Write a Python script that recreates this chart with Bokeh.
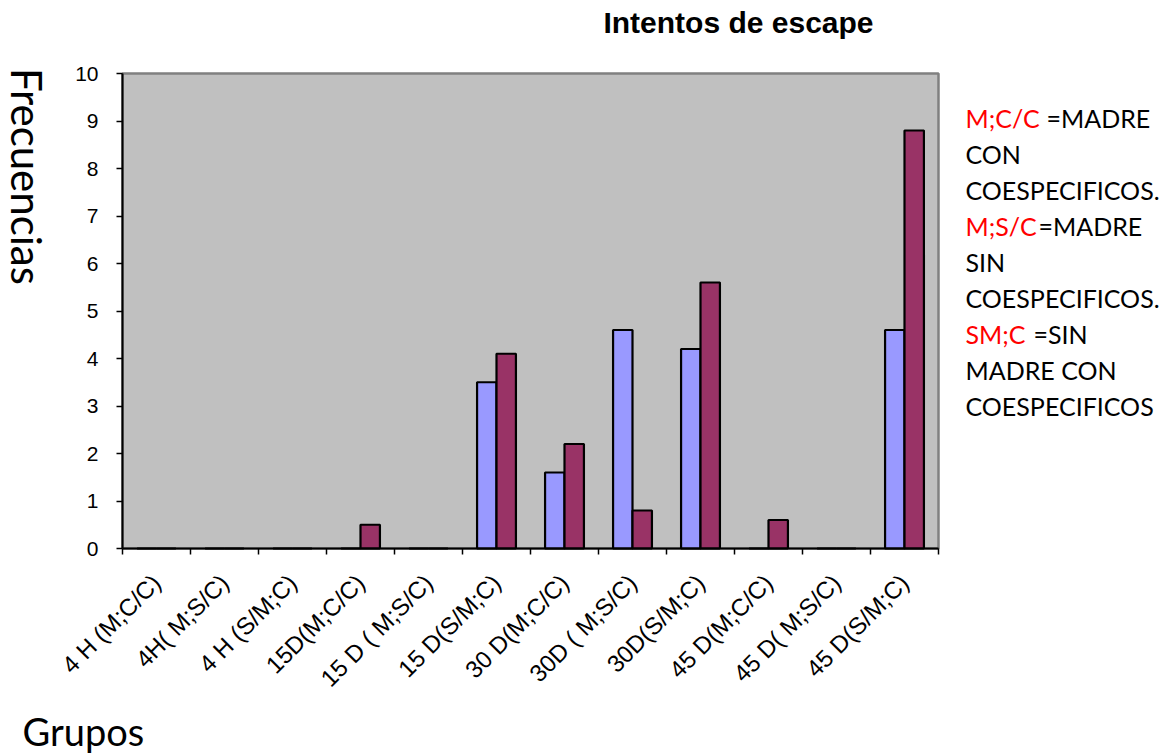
import math
from bokeh.plotting import figure
from bokeh.models import Range1d, FixedTicker, LinearAxis, Label, ColumnDataSource
from bokeh.transform import dodge
from bokeh.embed import file_html
from bokeh.resources import INLINE

# ---- data ----
groups = ["4 H (M;C/C)", "4H( M;S/C)", "4 H (S/M;C)", "15D(M;C/C)", "15 D ( M;S/C)",
          "15 D(S/M;C)", "30 D(M;C/C)", "30D ( M;S/C)", "30D(S/M;C)", "45 D(M;C/C)",
          "45 D( M;S/C)", "45 D(S/M;C)"]
serie_1 = [0, 0, 0, 0, 0, 3.5, 1.6, 4.6, 4.2, 0, 0, 4.6]
serie_2 = [0, 0, 0, 0.5, 0, 4.1, 2.2, 0.8, 5.6, 0.6, 0, 8.8]
y_ticks = list(range(0, 11))
title_text = "Intentos de escape"
y_title = "Frecuencias"
x_title = "Grupos"
legend_lines = [
    ("M;C/C", "=MADRE"), ("", "CON"), ("", "COESPECIFICOS."),
    ("M;S/C", "=MADRE"), ("", "SIN"), ("", "COESPECIFICOS."),
    ("SM;C", "=SIN"), ("", "MADRE CON"), ("", "COESPECIFICOS"),
]

# ---- layout (pixels) ----
W, H = 1163, 753
FRAME_L, FRAME_R, FRAME_T, FRAME_B = 122, 938, 73, 548
n = len(groups)
ymax = y_ticks[-1]
ppx = (FRAME_R - FRAME_L) / n
ppy = (FRAME_B - FRAME_T) / ymax

pos = [i + 0.5 for i in range(n)]
src = ColumnDataSource(dict(x=pos, s1=serie_1, s2=serie_2))

p = figure(width=W, height=H, output_backend="svg", toolbar_location=None,
           x_range=Range1d(-FRAME_L / ppx, n + (W - FRAME_R) / ppx),
           y_range=Range1d(-(H - FRAME_B) / ppy, ymax + FRAME_T / ppy),
           min_border=0, x_axis_type=None, y_axis_type=None)
p.background_fill_color = "white"
p.border_fill_color = "white"
p.outline_line_color = None
p.xgrid.visible = False
p.ygrid.visible = False

# plot area
p.quad(left=0, right=n, bottom=0, top=ymax, fill_color="#C0C0C0",
       line_color="#808080", line_width=2.5)

bw = 2.0 / 7.0
p.vbar(x=dodge("x", -bw / 2), top="s1", width=bw, source=src,
       fill_color="#9999FF", line_color="black", line_width=2.2)
p.vbar(x=dodge("x", bw / 2), top="s2", width=bw, source=src,
       fill_color="#993366", line_color="black", line_width=2.2)

# x axis
xa = LinearAxis(ticker=FixedTicker(ticks=pos, minor_ticks=list(range(n + 1))),
                fixed_location=0, bounds=(0, n))
xa.major_label_overrides = {v: g for v, g in zip(pos, groups)}
xa.major_label_orientation = math.pi / 4
xa.major_tick_line_color = None
xa.minor_tick_line_color = "black"
xa.minor_tick_line_width = 1.5
xa.minor_tick_out = 6
xa.minor_tick_in = 0
xa.axis_line_color = "black"
xa.axis_line_width = 2
xa.major_label_text_font = "Liberation Sans"
xa.major_label_text_font_size = "24px"
xa.major_label_text_color = "black"
xa.major_label_standoff = 24
p.add_layout(xa, "below")

# y axis
ya = LinearAxis(ticker=FixedTicker(ticks=y_ticks), fixed_location=0, bounds=(0, ymax))
ya.major_tick_line_color = "black"
ya.major_tick_line_width = 1.5
ya.major_tick_out = 6
ya.major_tick_in = 0
ya.minor_tick_line_color = None
ya.axis_line_color = "black"
ya.axis_line_width = 2
ya.major_label_text_font = "Liberation Sans"
ya.major_label_text_font_size = "21px"
ya.major_label_text_color = "black"
ya.major_label_standoff = 18
p.add_layout(ya, "left")


def lab(x, y, text, **kw):
    p.add_layout(Label(x=x, y=H - y, x_units="screen", y_units="screen", text=text,
                       text_baseline="middle", **kw))


lab(738, 22, title_text, text_font="Liberation Sans", text_font_style="bold",
    text_font_size="30px", text_align="center", text_color="black")
lab(26, 176, y_title, angle=-math.pi / 2, text_font="Lato", text_font_size="42px",
    text_align="center", text_color="black")
lab(22, 730, x_title, text_font="Lato", text_font_size="38px",
    text_align="left", text_color="black")

black_x = {0: 1046, 3: 1038, 6: 1033}
for i, (red, black) in enumerate(legend_lines):
    yc = 117 + 36 * i
    if red:
        lab(965, yc, red, text_font="Lato", text_font_size="25px", text_color="#FF0000")
        bx = black_x[i]
    else:
        bx = 965
    lab(bx, yc, black, text_font="Lato", text_font_size="25px", text_color="black")

open("out.html", "w").write(file_html(p, INLINE))
